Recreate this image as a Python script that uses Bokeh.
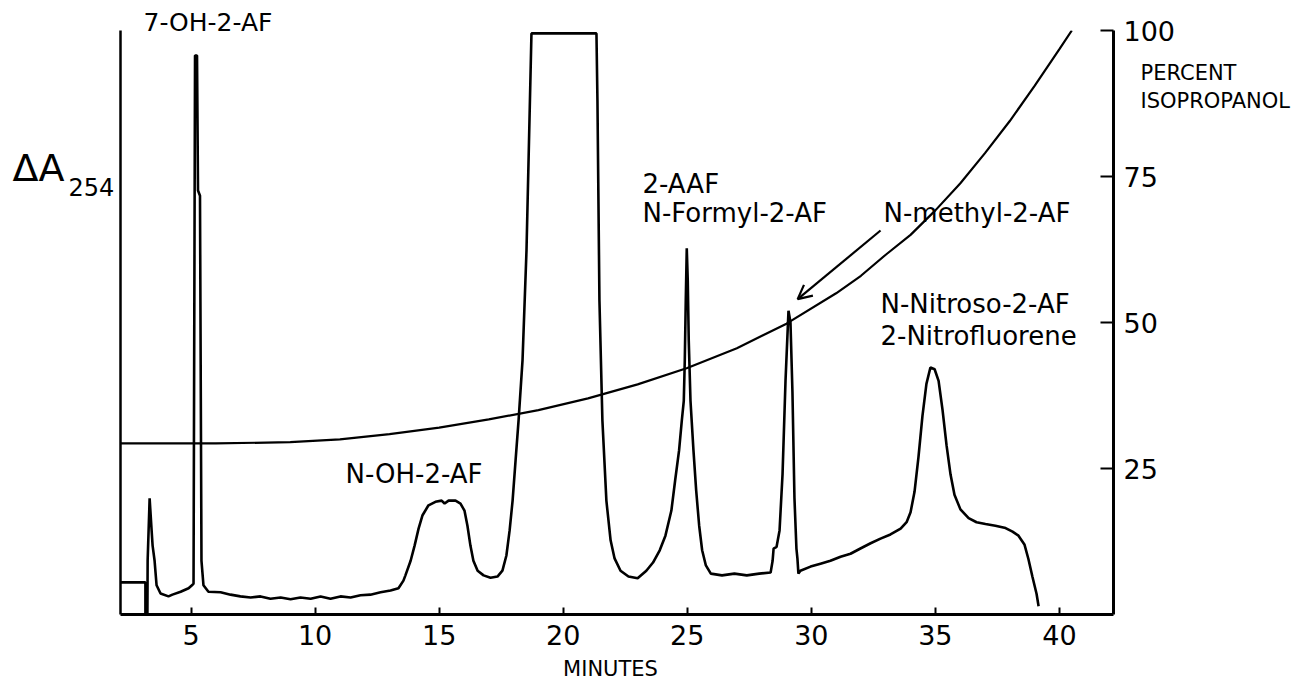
from bokeh.plotting import figure
from bokeh.models import Range1d, LinearAxis, FixedTicker, Label, Arrow, OpenHead
from bokeh.embed import file_html
from bokeh.resources import INLINE

# ---------------- data ----------------
x_ticks = [5, 10, 15, 20, 25, 30, 35, 40]
pct_ticks = [25, 50, 75, 100]

# chromatogram (time in minutes, absorbance in % of full scale)
time_min = [
    2.16, 3.16, 3.16, 3.24, 3.25, 3.33, 3.41, 3.45, 3.53, 3.61, 3.77, 4.09, 4.25, 4.58, 4.90, 5.06, 5.10,
    5.16, 5.24, 5.28, 5.36, 5.42, 5.50, 5.70,
    6.19, 6.59, 6.99, 7.40, 7.80, 8.20, 8.61, 9.01, 9.41, 9.82, 10.22, 10.62, 11.02, 11.43, 11.83, 12.23,
    12.64, 13.04, 13.36, 13.56,
    13.64, 13.85, 14.01, 14.17, 14.33, 14.57, 14.85, 15.10, 15.22, 15.38, 15.66, 15.86, 16.02, 16.14, 16.26,
    16.38, 16.55, 16.79, 17.07, 17.35, 17.55, 17.71, 17.84, 17.96, 18.08, 18.20, 18.36, 18.52, 18.64, 18.72,
    21.34, 21.38, 21.46, 21.58, 21.74, 21.91, 22.07, 22.31, 22.63, 23.00,
    23.35, 23.62, 23.89, 24.12, 24.36, 24.51, 24.67, 24.78, 24.86, 24.90, 24.94, 24.98, 25.02, 25.06, 25.13,
    25.25, 25.36, 25.48, 25.60, 25.75, 25.95,
    26.40, 26.90, 27.40, 27.90, 28.36,
    28.44, 28.48, 28.60, 28.72, 28.84, 28.96, 29.08, 29.16, 29.24, 29.32, 29.40, 29.44, 29.48,
    29.56, 29.97, 30.37, 30.77, 31.18, 31.58, 31.98, 32.39, 32.79, 33.19, 33.60, 33.84,
    34.00, 34.16, 34.32, 34.48, 34.64, 34.80, 34.97, 35.13, 35.29, 35.45, 35.61, 35.77, 36.01, 36.34, 36.66,
    37.02, 37.42, 37.83, 38.11, 38.35, 38.59, 38.75, 38.91, 39.08, 39.16,
]
absorbance = [
    5.5, 5.5, 0.0, 0.0, 9.2, 19.9, 14.4, 11.8, 9.2, 5.0, 3.6, 3.1, 3.4, 3.9, 4.5, 5.1, 5.3,
    95.7, 95.7, 72.6, 71.7, 9.2, 5.0, 3.9,
    3.8, 3.4, 3.1, 2.9, 3.1, 2.7, 2.9, 2.6, 2.9, 2.7, 3.1, 2.7, 3.1, 2.9, 3.3, 3.4,
    3.8, 4.1, 4.5, 5.8,
    6.7, 9.2, 11.8, 14.7, 17.0, 18.7, 19.3, 19.5, 19.0, 19.5, 19.5, 19.0, 17.8, 15.2, 11.8,
    9.2, 7.5, 6.7, 6.3, 6.5, 7.5, 10.1, 14.4, 19.5, 26.4, 33.2, 43.5, 62.3, 84.6, 99.5,
    99.5, 88.0, 53.8, 33.2, 19.5, 12.7, 9.6, 7.5, 6.5, 6.2,
    7.5, 8.9, 11.0, 13.5, 17.8, 22.9, 28.1, 33.2, 36.6, 43.5, 53.8, 62.7, 57.2, 46.9, 36.6,
    28.1, 21.2, 15.2, 11.0, 8.4, 7.0,
    6.7, 7.0, 6.7, 7.0, 7.2,
    9.2, 11.3, 11.6, 14.4, 24.0, 40.0, 52.0, 50.0, 38.0, 20.0, 11.3, 9.6, 7.0,
    7.5, 8.2, 8.7, 9.2, 9.9, 10.4, 11.3, 12.2, 13.0, 13.7, 14.7, 15.8,
    17.5, 21.0, 27.0, 34.0, 39.5, 42.3, 42.0, 40.0, 35.0, 29.0, 24.0, 20.5, 18.0, 16.5, 15.8,
    15.5, 15.2, 14.8, 14.2, 13.5, 12.0, 9.5, 6.5, 3.5, 1.4,
]

# solvent gradient (percent isopropanol)
grad_time = [2.16, 6.0, 9.0, 11.0, 13.0, 15.0, 17.0, 19.0, 21.0, 23.0, 25.0, 27.0, 29.0, 31.0,
             32.0, 33.0, 34.0, 35.0, 36.0, 37.0, 38.0, 39.0, 40.0, 40.5]
grad_pct = [29.3, 29.3, 29.5, 30.0, 30.9, 32.0, 33.4, 35.0, 37.0, 39.4, 42.2, 45.6, 49.8, 55.0,
            58.0, 61.6, 65.0, 69.2, 73.8, 79.0, 84.5, 90.5, 96.8, 100.0]

# right-hand caption lines (placed at these percent levels)
caption_pct = [92.8, 88.0]
caption_text = ["PERCENT", "ISOPROPANOL"]

FONT = "DejaVu Sans"

p = figure(width=1293, height=682, output_backend="svg", toolbar_location=None,
           x_range=Range1d(2.156, 42.18), y_range=Range1d(0, 100),
           min_border_left=120, min_border_right=180, min_border_top=30, min_border_bottom=68)
p.extra_y_ranges = {"pct": Range1d(0, 100)}
p.grid.visible = False
p.outline_line_color = None
p.background_fill_color = "white"
p.border_fill_color = "white"

xa = p.xaxis[0]
xa.ticker = FixedTicker(ticks=x_ticks)
xa.major_tick_in = 7
xa.major_tick_out = 0
xa.minor_tick_in = 0
xa.minor_tick_out = 0
xa.axis_line_width = 3
xa.major_tick_line_width = 2
xa.major_label_text_font = FONT
xa.major_label_text_font_size = "27px"
xa.major_label_text_color = "black"
xa.major_label_standoff = 10

ya = p.yaxis[0]
ya.ticker = FixedTicker(ticks=[])
ya.major_tick_in = 0
ya.major_tick_out = 0
ya.minor_tick_in = 0
ya.minor_tick_out = 0
ya.axis_line_width = 2.5

ra = LinearAxis(y_range_name="pct", ticker=FixedTicker(ticks=pct_ticks))
ra.major_tick_in = 13
ra.major_tick_out = 0
ra.minor_tick_in = 0
ra.minor_tick_out = 0
ra.axis_line_width = 3
ra.major_tick_line_width = 2
ra.major_label_text_font = FONT
ra.major_label_text_font_size = "27px"
ra.major_label_text_color = "black"
ra.major_label_standoff = 10
p.add_layout(ra, "right")

# caption "PERCENT / ISOPROPANOL" as an unlined companion axis
ca = LinearAxis(y_range_name="pct", ticker=FixedTicker(ticks=caption_pct),
                major_label_overrides={v: t for v, t in zip(caption_pct, caption_text)})
ca.axis_line_color = None
ca.major_tick_in = 0
ca.major_tick_out = 0
ca.minor_tick_in = 0
ca.minor_tick_out = 0
ca.major_label_text_font = FONT
ca.major_label_text_font_size = "21px"
ca.major_label_text_color = "black"
ca.major_label_standoff = -38
p.add_layout(ca, "right")

p.line(time_min, absorbance, line_width=2.6, color="black")
p.line(grad_time, grad_pct, y_range_name="pct", line_width=2.2, color="black")

def lab(x, y, text, size="26px", align="left", place=None):
    l = Label(x=x, y=y, x_units="canvas", y_units="canvas", text=text,
              text_font=FONT, text_font_size=size,
              text_baseline="middle", text_align=align, text_color="black")
    if place is None:
        p.add_layout(l)
    else:
        p.add_layout(l, place)

lab(345, 473, "N-OH-2-AF")
lab(642, 183, "2-AAF")
lab(642, 212, "N-Formyl-2-AF")
lab(883, 212, "N-methyl-2-AF")
lab(880, 303, "N-Nitroso-2-AF")
lab(880, 335, "2-Nitrofluorene")
lab(143, 22, "7-OH-2-AF", size="25px", place="above")
lab(12, 167, "ΔA", size="38px", place="left")
lab(68, 186, "254", size="24px", place="left")
lab(610, 668, "MINUTES", size="21px", align="center", place="below")

p.add_layout(Arrow(end=OpenHead(size=14, line_width=2.2, line_color="black"),
                   x_start=32.79, y_start=65.75, x_end=29.45, y_end=54.0,
                   line_width=2.2, line_color="black"))

open("out.html", "w").write(file_html(p, INLINE))
